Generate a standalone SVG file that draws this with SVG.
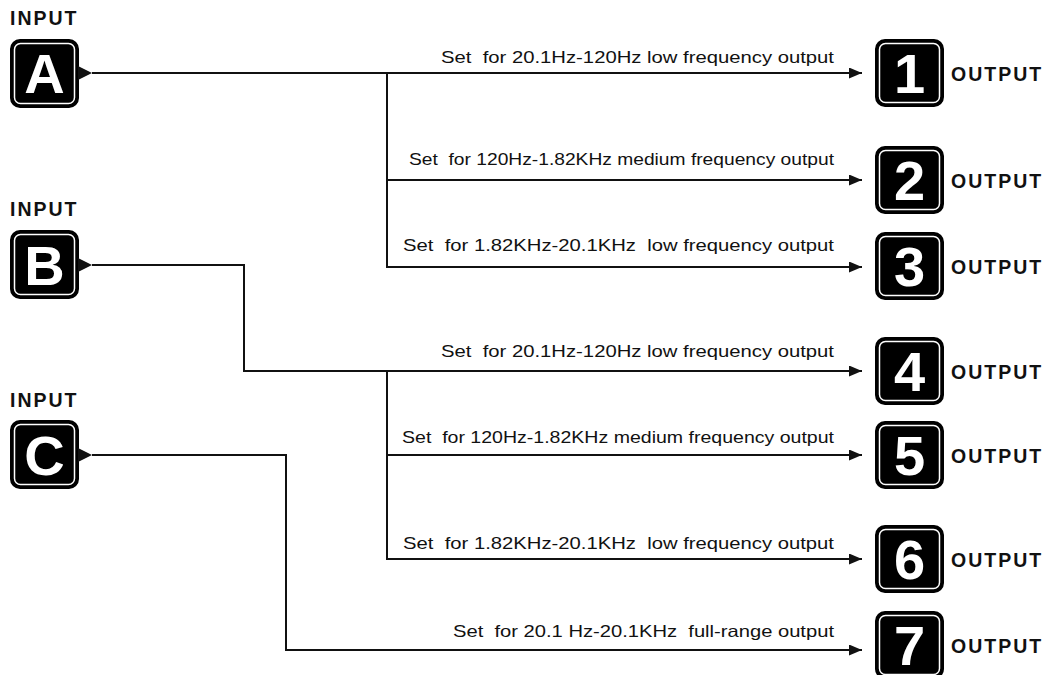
<svg xmlns="http://www.w3.org/2000/svg" width="1051" height="675" viewBox="0 0 1051 675">
<defs>
<style>
.box{fill:#000;stroke:#000;stroke-width:2}
.inner{fill:none;stroke:#fff;stroke-width:1.5}
.big{font-family:"Liberation Sans",Arial,sans-serif;font-weight:bold;font-size:56px;fill:#fff;text-anchor:middle}
.hdr{font-family:"Liberation Sans",Arial,sans-serif;font-weight:bold;font-size:19.5px;fill:#111;letter-spacing:2px}
.lbl{font-family:"Liberation Sans",Arial,sans-serif;font-size:16.5px;fill:#111;text-anchor:end;white-space:pre}
.ln{fill:none;stroke:#111;stroke-width:2}
</style>
<marker id="arr" viewBox="0 0 13 11" refX="13" refY="5.5" markerWidth="13" markerHeight="11" markerUnits="userSpaceOnUse" orient="auto">
<path d="M0,0 L13,5.5 L0,11 Z" fill="#111"/>
</marker>
</defs>

<g id="inA">
<text class="hdr" x="10" y="25">INPUT</text>
<rect class="box" x="11" y="40" width="67" height="67" rx="9"/>
<rect class="inner" x="14.5" y="43.5" width="60" height="60" rx="6"/>
<text class="big" x="44.5" y="93">A</text>
<path d="M78,66 L92,73 L78,80 Z" fill="#111"/>
</g>
<g id="inB">
<text class="hdr" x="10" y="216">INPUT</text>
<rect class="box" x="11" y="231" width="67" height="67" rx="9"/>
<rect class="inner" x="14.5" y="234.5" width="60" height="60" rx="6"/>
<text class="big" x="44.5" y="285">B</text>
<path d="M78,258 L92,265 L78,272 Z" fill="#111"/>
</g>
<g id="inC">
<text class="hdr" x="10" y="407">INPUT</text>
<rect class="box" x="11" y="421" width="67" height="67" rx="9"/>
<rect class="inner" x="14.5" y="424.5" width="60" height="60" rx="6"/>
<text class="big" x="44.5" y="475">C</text>
<path d="M78,448 L92,455 L78,462 Z" fill="#111"/>
</g>

<g id="out1"><rect class="box" x="876" y="40" width="67" height="66" rx="9"/><rect class="inner" x="879.5" y="43.5" width="60" height="59" rx="6"/><text class="big" x="909.5" y="93">1</text><text class="hdr" x="951" y="81">OUTPUT</text></g>
<g id="out2"><rect class="box" x="876" y="147" width="67" height="66" rx="9"/><rect class="inner" x="879.5" y="150.5" width="60" height="59" rx="6"/><text class="big" x="909.5" y="200">2</text><text class="hdr" x="951" y="188">OUTPUT</text></g>
<g id="out3"><rect class="box" x="876" y="233" width="67" height="66" rx="9"/><rect class="inner" x="879.5" y="236.5" width="60" height="59" rx="6"/><text class="big" x="909.5" y="286">3</text><text class="hdr" x="951" y="274">OUTPUT</text></g>
<g id="out4"><rect class="box" x="876" y="338" width="67" height="66" rx="9"/><rect class="inner" x="879.5" y="341.5" width="60" height="59" rx="6"/><text class="big" x="909.5" y="391">4</text><text class="hdr" x="951" y="379">OUTPUT</text></g>
<g id="out5"><rect class="box" x="876" y="422" width="67" height="66" rx="9"/><rect class="inner" x="879.5" y="425.5" width="60" height="59" rx="6"/><text class="big" x="909.5" y="475">5</text><text class="hdr" x="951" y="463">OUTPUT</text></g>
<g id="out6"><rect class="box" x="876" y="526" width="67" height="66" rx="9"/><rect class="inner" x="879.5" y="529.5" width="60" height="59" rx="6"/><text class="big" x="909.5" y="579">6</text><text class="hdr" x="951" y="567">OUTPUT</text></g>
<g id="out7"><rect class="box" x="876" y="612" width="67" height="66" rx="9"/><rect class="inner" x="879.5" y="615.5" width="60" height="59" rx="6"/><text class="big" x="909.5" y="665">7</text><text class="hdr" x="951" y="653">OUTPUT</text></g>

<g id="connectors">
<path class="ln" d="M92,73 L862,73" marker-end="url(#arr)"/>
<path class="ln" d="M387,73 L387,267 L862,267" marker-end="url(#arr)"/>
<path class="ln" d="M387,180 L862,180" marker-end="url(#arr)"/>
<path class="ln" d="M92,265 L244,265 L244,371 L862,371" marker-end="url(#arr)"/>
<path class="ln" d="M387,371 L387,559 L862,559" marker-end="url(#arr)"/>
<path class="ln" d="M387,455 L862,455" marker-end="url(#arr)"/>
<path class="ln" d="M92,455 L286,455 L286,650 L862,650" marker-end="url(#arr)"/>
</g>

<g id="labels">
<text class="lbl" x="834" y="63" textLength="393" lengthAdjust="spacingAndGlyphs" xml:space="preserve">Set  for 20.1Hz-120Hz low frequency output</text>
<text class="lbl" x="834" y="165" textLength="425" lengthAdjust="spacingAndGlyphs" xml:space="preserve">Set  for 120Hz-1.82KHz medium frequency output</text>
<text class="lbl" x="834" y="251" textLength="431" lengthAdjust="spacingAndGlyphs" xml:space="preserve">Set  for 1.82KHz-20.1KHz  low frequency output</text>
<text class="lbl" x="834" y="357" textLength="393" lengthAdjust="spacingAndGlyphs" xml:space="preserve">Set  for 20.1Hz-120Hz low frequency output</text>
<text class="lbl" x="834" y="443" textLength="432" lengthAdjust="spacingAndGlyphs" xml:space="preserve">Set  for 120Hz-1.82KHz medium frequency output</text>
<text class="lbl" x="834" y="549" textLength="431" lengthAdjust="spacingAndGlyphs" xml:space="preserve">Set  for 1.82KHz-20.1KHz  low frequency output</text>
<text class="lbl" x="834" y="637" textLength="381" lengthAdjust="spacingAndGlyphs" xml:space="preserve">Set  for 20.1 Hz-20.1KHz  full-range output</text>
</g>
</svg>
